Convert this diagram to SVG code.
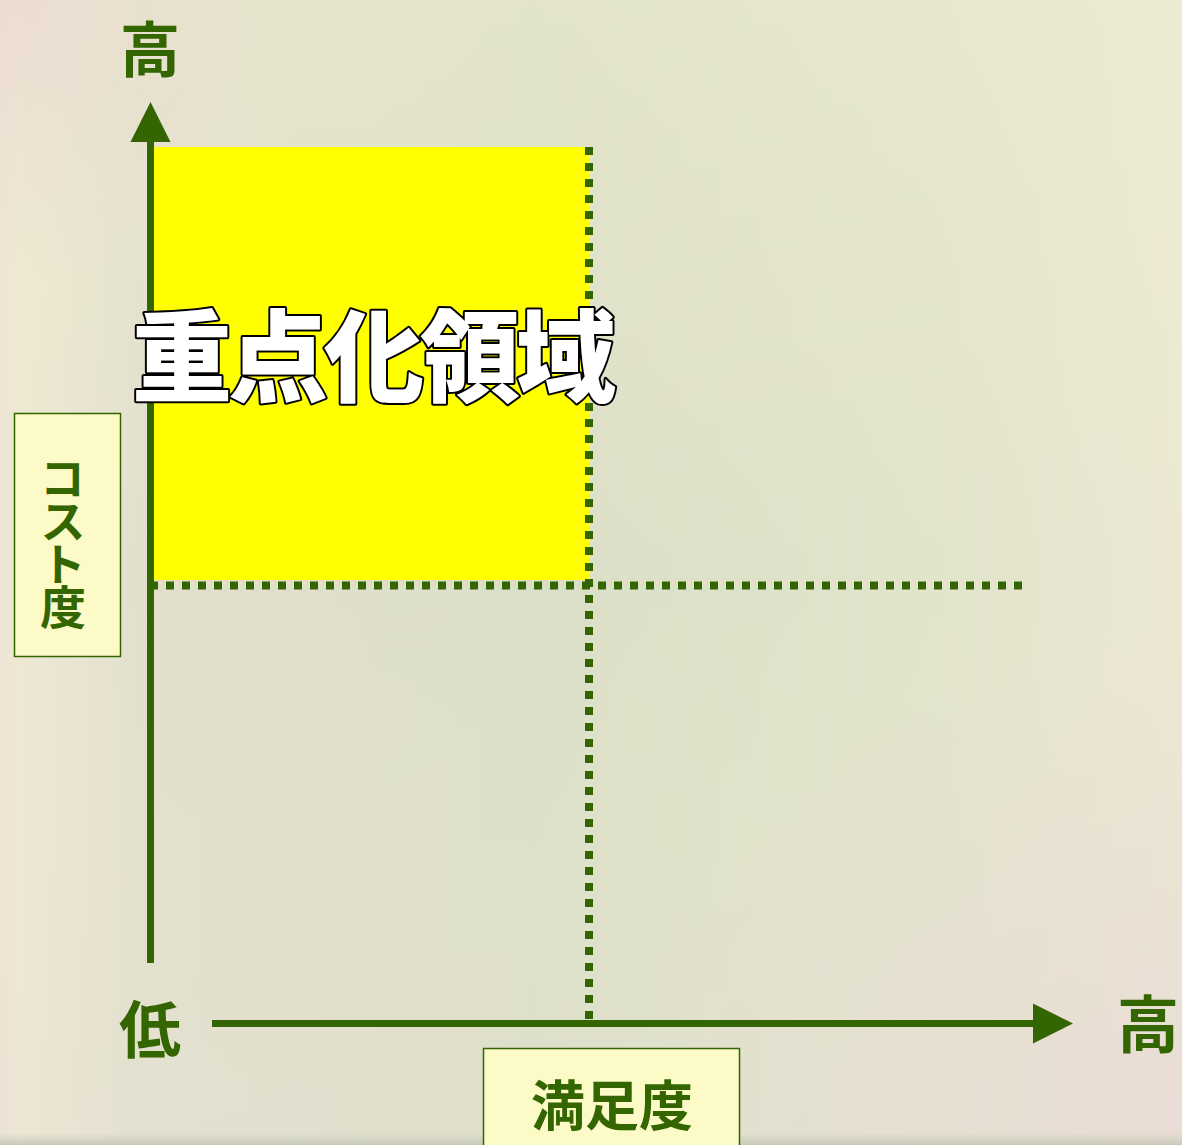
<svg xmlns="http://www.w3.org/2000/svg" width="1182" height="1145" viewBox="0 0 1182 1145">
  <defs>
    <linearGradient id="bgH" x1="0" y1="0" x2="1" y2="0">
      <stop offset="0" stop-color="#EEE3D4"/>
      <stop offset="0.015" stop-color="#EEE8D3"/>
      <stop offset="0.12" stop-color="#E2E0CD"/>
      <stop offset="0.45" stop-color="#DCDFC7"/>
      <stop offset="0.8" stop-color="#E2E4CC"/>
      <stop offset="1" stop-color="#ECE8D3"/>
    </linearGradient>
    <linearGradient id="bgV" x1="0" y1="0" x2="0" y2="1">
      <stop offset="0" stop-color="#F0F0D0" stop-opacity="0.35"/>
      <stop offset="0.5" stop-color="#F0F0D0" stop-opacity="0"/>
      <stop offset="1" stop-color="#E8E0D8" stop-opacity="0.25"/>
    </linearGradient>
    <radialGradient id="pinkBR" cx="1" cy="1" r="0.45">
      <stop offset="0" stop-color="#E9DAD6" stop-opacity="0.8"/>
      <stop offset="1" stop-color="#E9DAD6" stop-opacity="0"/>
    </radialGradient>
    <radialGradient id="pinkTL" cx="0" cy="0" r="0.25">
      <stop offset="0" stop-color="#EBDAD2" stop-opacity="0.8"/>
      <stop offset="1" stop-color="#EBDAD2" stop-opacity="0"/>
    </radialGradient>
    <linearGradient id="bottomStrip" x1="0" y1="0" x2="0" y2="1">
      <stop offset="0" stop-color="#D0D2C0" stop-opacity="0"/>
      <stop offset="1" stop-color="#C4C6B4" stop-opacity="0.9"/>
    </linearGradient>
    <style>
      .axis { stroke: #336600; stroke-width: 7; fill: none; }
      .head { fill: #336600; }
      .dots { stroke: #336600; stroke-width: 8; stroke-dasharray: 8 8; fill: none; }
      .lbl { font-family: "Noto Sans CJK JP", "Noto Sans", sans-serif; font-weight: 700; fill: #336600; text-anchor: middle; dominant-baseline: central; }
      .box { fill: #FCFAC6; stroke: #336600; stroke-width: 1.5; }
      .big { font-family: "Noto Sans CJK JP", "Noto Sans", sans-serif; font-weight: 800; font-size: 100px; fill: #FFFFFF; stroke: #000000; stroke-width: 4; paint-order: stroke fill; stroke-linejoin: round; dominant-baseline: central; }
    </style>
  </defs>

  <g id="background">
    <rect x="0" y="0" width="1182" height="1145" fill="url(#bgH)"/>
    <rect x="0" y="0" width="1182" height="1145" fill="url(#bgV)"/>
    <rect x="0" y="0" width="1182" height="1145" fill="url(#pinkBR)"/>
    <rect x="0" y="0" width="1182" height="1145" fill="url(#pinkTL)"/>
    <rect x="0" y="1132" width="1182" height="13" fill="url(#bottomStrip)"/>
  </g>

  <g id="focus-area">
    <rect x="154" y="147" width="436" height="433" fill="#FFFF00"/>
  </g>

  <g id="connectors">
    <line class="dots" x1="150" y1="585.5" x2="1024" y2="585.5"/>
    <line class="dots" x1="589" y1="147" x2="589" y2="1019"/>
    <line class="axis" x1="150.5" y1="963" x2="150.5" y2="138"/>
    <polygon class="head" points="150.5,102 130.5,142 170.5,142"/>
    <line class="axis" x1="212" y1="1023.5" x2="1036" y2="1023.5"/>
    <polygon class="head" points="1073,1023.5 1033,1003.5 1033,1043.5"/>
  </g>

  <g id="label-high-y">
    <text class="lbl" x="150" y="45" font-size="60">高</text>
  </g>
  <g id="label-low">
    <text class="lbl" x="150" y="1026" font-size="62">低</text>
  </g>
  <g id="label-high-x">
    <text class="lbl" x="1148" y="1021" font-size="62">高</text>
  </g>

  <g id="cost-axis-label">
    <rect class="box" x="14.5" y="413.5" width="106" height="243"/>
    <text class="lbl" x="63" y="541" font-size="46" writing-mode="vertical-rl" letter-spacing="-3">コスト度</text>
  </g>

  <g id="satisfaction-axis-label">
    <rect class="box" x="483.5" y="1048.5" width="256" height="110"/>
    <text class="lbl" x="612" y="1102" font-size="54">満足度</text>
  </g>

  <g id="focus-label">
    <text class="big" x="132" y="350" letter-spacing="-4">重点化領域</text>
  </g>
</svg>
